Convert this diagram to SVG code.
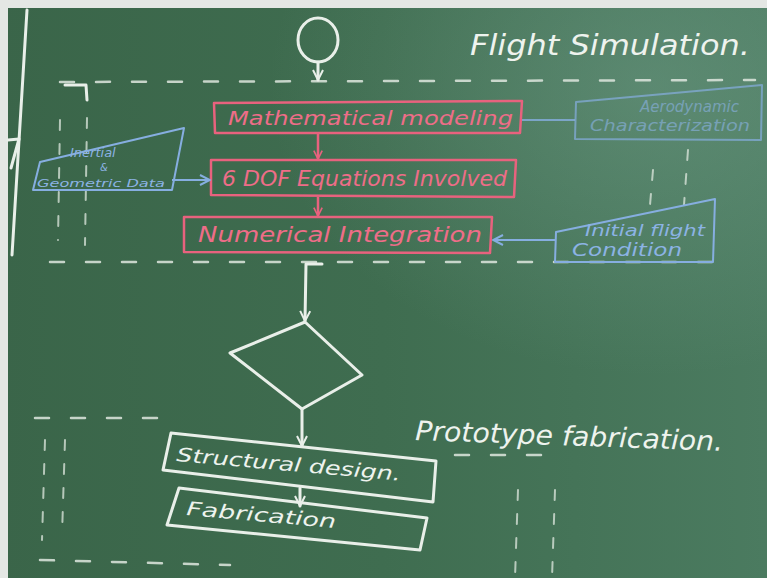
<svg xmlns="http://www.w3.org/2000/svg" width="767" height="578" viewBox="0 0 767 578">
<defs>
<linearGradient id="bg" x1="0" y1="0" x2="1" y2="0">
<stop offset="0" stop-color="#3a6549"/>
<stop offset="0.5" stop-color="#3f6d50"/>
<stop offset="1" stop-color="#4b7b60"/>
</linearGradient>
<radialGradient id="haze" cx="0.85" cy="0.15" r="0.5">
<stop offset="0" stop-color="#7aa592" stop-opacity="0.4"/>
<stop offset="1" stop-color="#7aa592" stop-opacity="0"/>
</radialGradient>
<marker id="aw" viewBox="0 0 12 12" refX="11" refY="6" markerWidth="12" markerHeight="12" markerUnits="userSpaceOnUse" orient="auto">
<path d="M1,1 L11,6 L1,11" fill="none" stroke="#e9efe9" stroke-width="2"/>
</marker>
<marker id="ap" viewBox="0 0 12 12" refX="11" refY="6" markerWidth="10" markerHeight="10" markerUnits="userSpaceOnUse" orient="auto">
<path d="M1,1 L11,6 L1,11" fill="none" stroke="#e8627e" stroke-width="2"/>
</marker>
<marker id="ab" viewBox="0 0 12 12" refX="11" refY="6" markerWidth="12" markerHeight="12" markerUnits="userSpaceOnUse" orient="auto">
<path d="M1,1 L11,6 L1,11" fill="none" stroke="#86aee0" stroke-width="2"/>
</marker>
<style>
.w{fill:none;stroke:#e9efe9;stroke-width:3;stroke-linecap:round;stroke-linejoin:round}
.p{fill:none;stroke:#e8627e;stroke-width:2.5;stroke-linejoin:round}
.b{fill:none;stroke:#86aee0;stroke-width:2;stroke-linejoin:round}
.d{fill:none;stroke:#dfe8df;stroke-width:2.5;stroke-linecap:round;stroke-dasharray:14 22;opacity:0.85}
.dv{fill:none;stroke:#dfe8df;stroke-width:2;stroke-linecap:round;stroke-dasharray:10 14;opacity:0.75}
.tw{fill:#eef3ee;font-family:"DejaVu Sans",sans-serif;font-style:oblique}
.tp{fill:#ee6d88;font-family:"DejaVu Sans",sans-serif;font-style:oblique}
.tb{fill:#8cb3e4;font-family:"DejaVu Sans",sans-serif;font-style:oblique}
</style>
</defs>
<rect width="767" height="578" fill="url(#bg)"/>
<rect width="767" height="578" fill="url(#haze)"/>
<rect x="0" y="0" width="767" height="8" fill="#e4e7e4"/>
<rect x="0" y="0" width="8" height="578" fill="#e4e7e4"/>

<g id="board-marks">
<path class="w" d="M27,10 L12,255"/>
<path class="w" d="M8,140 L19,139 L11,168" stroke-width="2.5"/>
<path class="d" d="M60,82 L755,80"/>
<path class="w" d="M65,85 L86,85 L87,100" stroke-width="2"/>
<path class="dv" d="M60,120 L58,240"/>
<path class="dv" d="M87,118 L85,245"/>
<path class="d" d="M50,262 L720,262"/>
<path class="dv" d="M653,170 L650,205"/>
<path class="dv" d="M688,150 L684,205"/>
<path class="d" d="M35,418 L165,418"/>
<path class="d" d="M455,455 L560,455"/>
<path class="dv" d="M45,440 L42,540"/>
<path class="dv" d="M65,440 L62,535"/>
<path class="dv" d="M518,490 L515,578"/>
<path class="dv" d="M555,490 L552,578"/>
<path class="d" d="M40,560 L230,565"/>
</g>

<g id="start">
<ellipse class="w" cx="318" cy="40" rx="20" ry="22"/>
</g>

<g id="title-flight">
<text class="tw" x="470" y="55" font-size="28" textLength="280" lengthAdjust="spacingAndGlyphs">Flight Simulation.</text>
</g>

<g id="math-model">
<path class="p" d="M214,103 L522,101 L520,133 L215,133 Z"/>
<text class="tp" x="228" y="125" font-size="20" textLength="285" lengthAdjust="spacingAndGlyphs">Mathematical modeling</text>
</g>

<g id="dof">
<path class="p" d="M211,160 L516,160 L514,197 L211,195 Z"/>
<text class="tp" x="222" y="186" font-size="21" textLength="285" lengthAdjust="spacingAndGlyphs">6 DOF Equations Involved</text>
</g>

<g id="numint">
<path class="p" d="M184,217 L492,217 L490,253 L184,252 Z"/>
<text class="tp" x="198" y="242" font-size="22" textLength="284" lengthAdjust="spacingAndGlyphs">Numerical Integration</text>
</g>

<g id="aero">
<path class="b" d="M576,102 L762,85 L761,140 L575,139 Z" opacity="0.7"/>
<text class="tb" x="640" y="112" font-size="15" opacity="0.6">Aerodynamic</text>
<text class="tb" x="590" y="131" font-size="15" opacity="0.6" textLength="160" lengthAdjust="spacingAndGlyphs">Characterization</text>
</g>

<g id="inertial">
<path class="b" d="M40,162 L184,128 L172,190 L33,190 Z"/>
<text class="tb" x="70" y="157" font-size="13">Inertial</text>
<text class="tb" x="100" y="171" font-size="10">&amp;</text>
<text class="tb" x="37" y="187" font-size="11" textLength="128" lengthAdjust="spacingAndGlyphs">Geometric Data</text>
</g>

<g id="initial">
<path class="b" d="M556,232 L715,199 L713,262 L555,262 Z"/>
<text class="tb" x="585" y="236" font-size="15" textLength="120" lengthAdjust="spacingAndGlyphs">Initial flight</text>
<text class="tb" x="572" y="256" font-size="17" textLength="110" lengthAdjust="spacingAndGlyphs">Condition</text>
</g>

<g id="decision">
<path class="w" d="M305,322 L362,375 L302,409 L230,353 Z"/>
</g>

<g id="title-proto">
<text class="tw" x="415" y="440" font-size="27" textLength="308" lengthAdjust="spacingAndGlyphs" transform="rotate(2 415 440)">Prototype fabrication.</text>
</g>

<g id="struct">
<path class="w" d="M171,433 L436,461 L433,502 L163,470 Z"/>
<text class="tw" x="176" y="461" font-size="19" textLength="225" lengthAdjust="spacingAndGlyphs" transform="rotate(5 176 461)">Structural design.</text>
</g>

<g id="fab">
<path class="w" d="M179,488 L427,518 L420,550 L167,525 Z"/>
<text class="tw" x="186" y="515" font-size="19" textLength="150" lengthAdjust="spacingAndGlyphs" transform="rotate(5 186 515)">Fabrication</text>
</g>

<g id="connectors">
<path class="w" d="M318,62 L318,80" marker-end="url(#aw)"/>
<path class="p" d="M318,133 L318,159" marker-end="url(#ap)" stroke-width="2"/>
<path class="p" d="M318,197 L318,216" marker-end="url(#ap)" stroke-width="2"/>
<path class="b" d="M575,120 L522,120" opacity="0.8"/>
<path class="b" d="M172,180 L210,180" marker-end="url(#ab)"/>
<path class="b" d="M555,240 L493,240" marker-end="url(#ab)"/>
<path class="w" d="M322,264 L306,264 L305,321" marker-end="url(#aw)"/>
<path class="w" d="M302,409 L302,446" marker-end="url(#aw)"/>
<path class="w" d="M300,488 L300,506" marker-end="url(#aw)" stroke-width="2"/>
</g>
</svg>
